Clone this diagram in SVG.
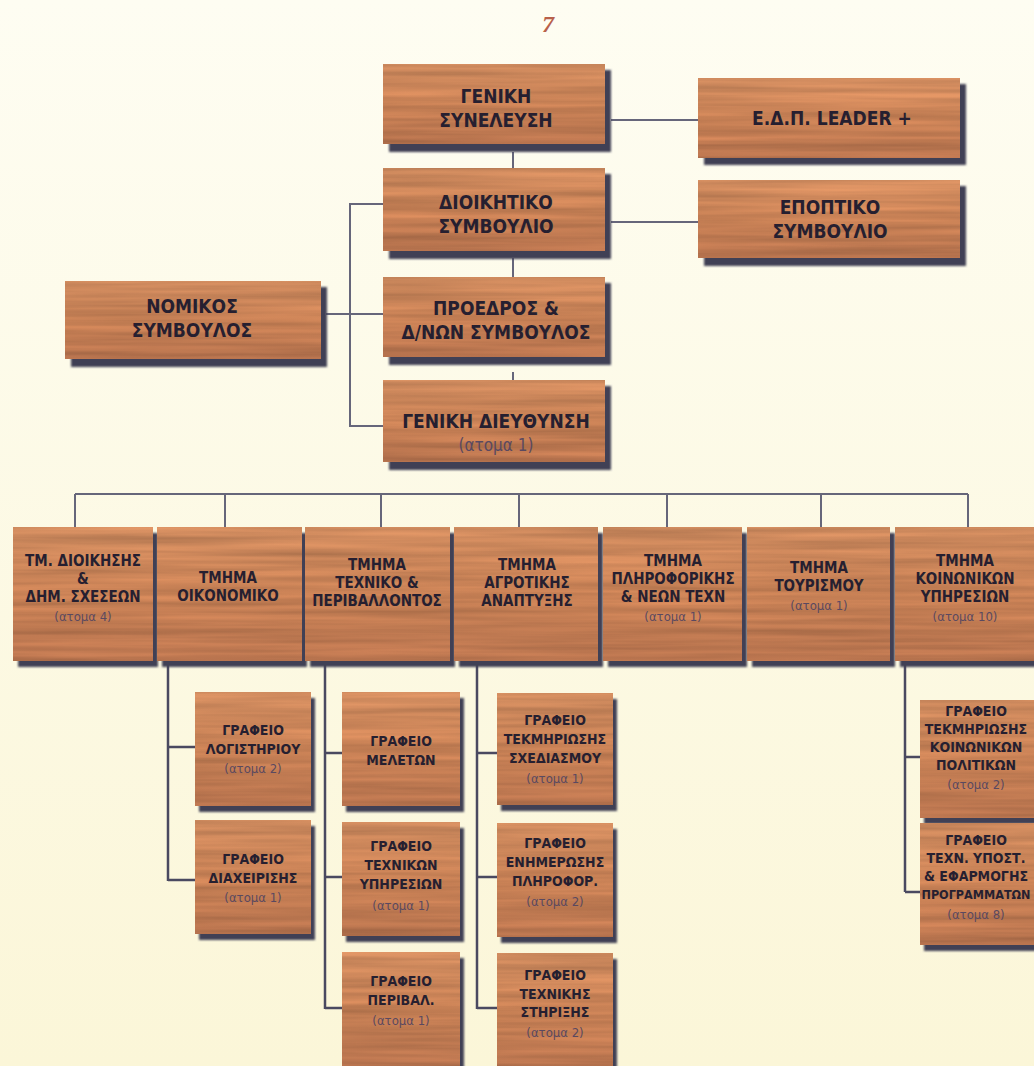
<svg xmlns="http://www.w3.org/2000/svg" width="1034" height="1066" viewBox="0 0 1034 1066">
<defs>
  <linearGradient id="bg" x1="0" y1="0" x2="0" y2="1">
    <stop offset="0" stop-color="#fefdf2"/>
    <stop offset="1" stop-color="#fbf6d8"/>
  </linearGradient>
  <linearGradient id="woodGrad" x1="0" y1="0" x2="0" y2="1">
    <stop offset="0" stop-color="#e99c6a"/>
    <stop offset="0.5" stop-color="#e19160"/>
    <stop offset="1" stop-color="#cf8258"/>
  </linearGradient>
  <filter id="wood" x="0" y="0" width="1" height="1" color-interpolation-filters="sRGB">
    <feTurbulence type="fractalNoise" baseFrequency="0.004 0.14" numOctaves="3" seed="7" result="n"/>
    <feColorMatrix in="n" type="matrix" values="0.3 0 0 0 0.74  0.3 0 0 0 0.74  0.3 0 0 0 0.74  0 0 0 0 1" result="g"/>
    <feBlend in="SourceGraphic" in2="g" mode="multiply" result="b"/>
    <feComposite in="b" in2="SourceGraphic" operator="in"/>
  </filter>
  <filter id="soft" x="-10%" y="-10%" width="130%" height="130%">
    <feGaussianBlur stdDeviation="1.2"/>
  </filter>
</defs>
<style>
  .bx { fill: url(#woodGrad); filter: url(#wood); }
  .sh { fill: #403f55; filter: url(#soft); }
  .t { font-family: "DejaVu Sans", "Liberation Sans", sans-serif; font-stretch: condensed; font-weight: bold; fill: #261f30; text-anchor: middle; }
  .big { font-size: 19px; }
  .mid { font-size: 15px; }
  .sm { font-size: 14px; }
  .p { font-weight: normal; fill: #5a4960; font-size: 13px; }
  .ln { stroke: #66667a; stroke-width: 2; fill: none; }
  .ld { stroke: #4a4960; stroke-width: 2.5; fill: none; }
</style>
<rect width="1034" height="1066" fill="url(#bg)"/>
<text x="548" y="32" font-family="Liberation Serif, serif" font-style="italic" font-weight="bold" font-size="24" fill="#b8604a" text-anchor="middle">7</text>

<g id="connectors">
  <path class="ln" d="M611 120 H698 M611 222 H698 M513 152 V168 M513 258 V278 M513 372 V385"/>
  <path class="ln" d="M383 204 H350 V426 H383 M326 314 H383"/>
  <path class="ln" d="M75 494 H968 M75 494 V527 M225 494 V527 M381 494 V527 M519 494 V527 M667 494 V527 M821 494 V527 M968 494 V527"/>
  <path class="ld" d="M168 662 V881 M168 747 H195 M168 880 H195"/>
  <path class="ld" d="M325 662 V1009 M325 753 H342 M325 877 H342 M325 1008 H342"/>
  <path class="ld" d="M477 662 V1009 M477 753 H497 M477 877 H497 M477 1008 H497"/>
  <path class="ld" d="M905 662 V892 M905 757 H920 M905 892 H920"/>
</g>

<g id="n-genikh-synel">
  <rect class="sh" x="389" y="70" width="222" height="82"/>
  <rect class="bx" x="383" y="64" width="222" height="80"/>
  <text class="t big"><tspan x="496" y="103">ΓΕΝΙΚΗ</tspan><tspan x="496" y="127">ΣΥΝΕΛΕΥΣΗ</tspan></text>
</g>
<g id="n-leader">
  <rect class="sh" x="704" y="84" width="262" height="81"/>
  <rect class="bx" x="698" y="78" width="262" height="80"/>
  <text class="t big"><tspan x="832" y="125">Ε.Δ.Π. LEADER +</tspan></text>
</g>
<g id="n-dioikhtiko">
  <rect class="sh" x="389" y="174" width="222" height="85"/>
  <rect class="bx" x="383" y="168" width="222" height="83"/>
  <text class="t big"><tspan x="496" y="209">ΔΙΟΙΚΗΤΙΚΟ</tspan><tspan x="496" y="233">ΣΥΜΒΟΥΛΙΟ</tspan></text>
</g>
<g id="n-epoptiko">
  <rect class="sh" x="704" y="186" width="262" height="80"/>
  <rect class="bx" x="698" y="180" width="262" height="78"/>
  <text class="t big"><tspan x="830" y="214">ΕΠΟΠΤΙΚΟ</tspan><tspan x="830" y="238">ΣΥΜΒΟΥΛΙΟ</tspan></text>
</g>
<g id="n-nomikos">
  <rect class="sh" x="71" y="287" width="256" height="80"/>
  <rect class="bx" x="65" y="281" width="256" height="78"/>
  <text class="t big"><tspan x="192" y="313">ΝΟΜΙΚΟΣ</tspan><tspan x="192" y="337">ΣΥΜΒΟΥΛΟΣ</tspan></text>
</g>
<g id="n-proedros">
  <rect class="sh" x="389" y="283" width="222" height="82"/>
  <rect class="bx" x="383" y="277" width="222" height="80"/>
  <text class="t big"><tspan x="496" y="315">ΠΡΟΕΔΡΟΣ &amp;</tspan><tspan x="496" y="339">Δ/ΝΩΝ ΣΥΜΒΟΥΛΟΣ</tspan></text>
</g>
<g id="n-genikh-dieyth">
  <rect class="sh" x="389" y="386" width="222" height="84"/>
  <rect class="bx" x="383" y="380" width="222" height="82"/>
  <text class="t big"><tspan x="496" y="428">ΓΕΝΙΚΗ ΔΙΕΥΘΥΝΣΗ</tspan><tspan class="p" x="496" y="451" style="font-size:17px">(ατομα 1)</tspan></text>
</g>

<g id="d-dioikhshs">
  <rect class="sh" x="18" y="533" width="140" height="134"/>
  <rect class="bx" x="13" y="527" width="140" height="134"/>
  <text class="t mid"><tspan x="83" y="566">ΤΜ. ΔΙΟΙΚΗΣΗΣ</tspan><tspan x="83" y="584">&amp;</tspan><tspan x="83" y="602">ΔΗΜ. ΣΧΕΣΕΩΝ</tspan><tspan class="p" x="83" y="621">(ατομα 4)</tspan></text>
</g>
<g id="d-oikonomiko">
  <rect class="sh" x="162" y="533" width="145" height="134"/>
  <rect class="bx" x="157" y="527" width="145" height="134"/>
  <text class="t mid"><tspan x="228" y="583">ΤΜΗΜΑ</tspan><tspan x="228" y="601">ΟΙΚΟΝΟΜΙΚΟ</tspan></text>
</g>
<g id="d-texniko">
  <rect class="sh" x="310" y="533" width="145" height="134"/>
  <rect class="bx" x="305" y="527" width="145" height="134"/>
  <text class="t mid"><tspan x="377" y="570">ΤΜΗΜΑ</tspan><tspan x="377" y="588">ΤΕΧΝΙΚΟ &amp;</tspan><tspan x="377" y="606">ΠΕΡΙΒΑΛΛΟΝΤΟΣ</tspan></text>
</g>
<g id="d-agrotikhs">
  <rect class="sh" x="459" y="533" width="144" height="134"/>
  <rect class="bx" x="454" y="527" width="144" height="134"/>
  <text class="t mid"><tspan x="527" y="570">ΤΜΗΜΑ</tspan><tspan x="527" y="588">ΑΓΡΟΤΙΚΗΣ</tspan><tspan x="527" y="606">ΑΝΑΠΤΥΞΗΣ</tspan></text>
</g>
<g id="d-plhroforikhs">
  <rect class="sh" x="608" y="533" width="139" height="134"/>
  <rect class="bx" x="603" y="527" width="139" height="134"/>
  <text class="t mid"><tspan x="673" y="566">ΤΜΗΜΑ</tspan><tspan x="673" y="584">ΠΛΗΡΟΦΟΡΙΚΗΣ</tspan><tspan x="673" y="602">&amp; ΝΕΩΝ ΤΕΧΝ</tspan><tspan class="p" x="673" y="621">(ατομα 1)</tspan></text>
</g>
<g id="d-tourismou">
  <rect class="sh" x="752" y="533" width="143" height="134"/>
  <rect class="bx" x="747" y="527" width="143" height="134"/>
  <text class="t mid"><tspan x="819" y="573">ΤΜΗΜΑ</tspan><tspan x="819" y="591">ΤΟΥΡΙΣΜΟΥ</tspan><tspan class="p" x="819" y="610">(ατομα 1)</tspan></text>
</g>
<g id="d-koinonikon">
  <rect class="sh" x="900" y="533" width="140" height="134"/>
  <rect class="bx" x="895" y="527" width="140" height="134"/>
  <text class="t mid"><tspan x="965" y="566">ΤΜΗΜΑ</tspan><tspan x="965" y="584">ΚΟΙΝΩΝΙΚΩΝ</tspan><tspan x="965" y="602">ΥΠΗΡΕΣΙΩΝ</tspan><tspan class="p" x="965" y="621">(ατομα 10)</tspan></text>
</g>

<g id="o-logisthriou">
  <rect class="sh" x="199" y="698" width="116" height="114"/>
  <rect class="bx" x="195" y="692" width="116" height="114"/>
  <text class="t sm"><tspan x="253" y="735">ΓΡΑΦΕΙΟ</tspan><tspan x="253" y="754">ΛΟΓΙΣΤΗΡΙΟΥ</tspan><tspan class="p" x="253" y="773">(ατομα 2)</tspan></text>
</g>
<g id="o-diaxeirishs">
  <rect class="sh" x="199" y="826" width="116" height="114"/>
  <rect class="bx" x="195" y="820" width="116" height="114"/>
  <text class="t sm"><tspan x="253" y="864">ΓΡΑΦΕΙΟ</tspan><tspan x="253" y="883">ΔΙΑΧΕΙΡΙΣΗΣ</tspan><tspan class="p" x="253" y="902">(ατομα 1)</tspan></text>
</g>
<g id="o-meletwn">
  <rect class="sh" x="346" y="698" width="118" height="114"/>
  <rect class="bx" x="342" y="692" width="118" height="114"/>
  <text class="t sm"><tspan x="401" y="746">ΓΡΑΦΕΙΟ</tspan><tspan x="401" y="765">ΜΕΛΕΤΩΝ</tspan></text>
</g>
<g id="o-texnikwn">
  <rect class="sh" x="346" y="828" width="118" height="114"/>
  <rect class="bx" x="342" y="822" width="118" height="114"/>
  <text class="t sm"><tspan x="401" y="851">ΓΡΑΦΕΙΟ</tspan><tspan x="401" y="870">ΤΕΧΝΙΚΩΝ</tspan><tspan x="401" y="889">ΥΠΗΡΕΣΙΩΝ</tspan><tspan class="p" x="401" y="910">(ατομα 1)</tspan></text>
</g>
<g id="o-periballontos">
  <rect class="sh" x="346" y="958" width="118" height="114"/>
  <rect class="bx" x="342" y="952" width="118" height="114"/>
  <text class="t sm"><tspan x="401" y="986">ΓΡΑΦΕΙΟ</tspan><tspan x="401" y="1005">ΠΕΡΙΒΑΛ.</tspan><tspan class="p" x="401" y="1025">(ατομα 1)</tspan></text>
</g>
<g id="o-sxediasmou">
  <rect class="sh" x="501" y="699" width="116" height="112"/>
  <rect class="bx" x="497" y="693" width="116" height="112"/>
  <text class="t sm"><tspan x="555" y="725">ΓΡΑΦΕΙΟ</tspan><tspan x="555" y="744">ΤΕΚΜΗΡΙΩΣΗΣ</tspan><tspan x="555" y="763">ΣΧΕΔΙΑΣΜΟΥ</tspan><tspan class="p" x="555" y="783">(ατομα 1)</tspan></text>
</g>
<g id="o-enhmerwshs">
  <rect class="sh" x="501" y="829" width="116" height="114"/>
  <rect class="bx" x="497" y="823" width="116" height="114"/>
  <text class="t sm"><tspan x="555" y="848">ΓΡΑΦΕΙΟ</tspan><tspan x="555" y="867">ΕΝΗΜΕΡΩΣΗΣ</tspan><tspan x="555" y="886">ΠΛΗΡΟΦΟΡ.</tspan><tspan class="p" x="555" y="906">(ατομα 2)</tspan></text>
</g>
<g id="o-sthrixhs">
  <rect class="sh" x="501" y="959" width="116" height="113"/>
  <rect class="bx" x="497" y="953" width="116" height="113"/>
  <text class="t sm"><tspan x="555" y="980">ΓΡΑΦΕΙΟ</tspan><tspan x="555" y="999">ΤΕΧΝΙΚΗΣ</tspan><tspan x="555" y="1017">ΣΤΗΡΙΞΗΣ</tspan><tspan class="p" x="555" y="1037">(ατομα 2)</tspan></text>
</g>
<g id="o-koin-politikwn">
  <rect class="sh" x="924" y="706" width="114" height="118"/>
  <rect class="bx" x="920" y="700" width="114" height="118"/>
  <text class="t sm"><tspan x="976" y="716">ΓΡΑΦΕΙΟ</tspan><tspan x="976" y="734">ΤΕΚΜΗΡΙΩΣΗΣ</tspan><tspan x="976" y="752">ΚΟΙΝΩΝΙΚΩΝ</tspan><tspan x="976" y="770">ΠΟΛΙΤΙΚΩΝ</tspan><tspan class="p" x="976" y="789">(ατομα 2)</tspan></text>
</g>
<g id="o-koin-programmatwn">
  <rect class="sh" x="924" y="829" width="114" height="122"/>
  <rect class="bx" x="920" y="823" width="114" height="122"/>
  <text class="t sm"><tspan x="976" y="845">ΓΡΑΦΕΙΟ</tspan><tspan x="976" y="863">ΤΕΧΝ. ΥΠΟΣΤ.</tspan><tspan x="976" y="881">&amp; ΕΦΑΡΜΟΓΗΣ</tspan><tspan x="976" y="899" style="font-size:12.5px">ΠΡΟΓΡΑΜΜΑΤΩΝ</tspan><tspan class="p" x="976" y="919">(ατομα 8)</tspan></text>
</g>
</svg>
